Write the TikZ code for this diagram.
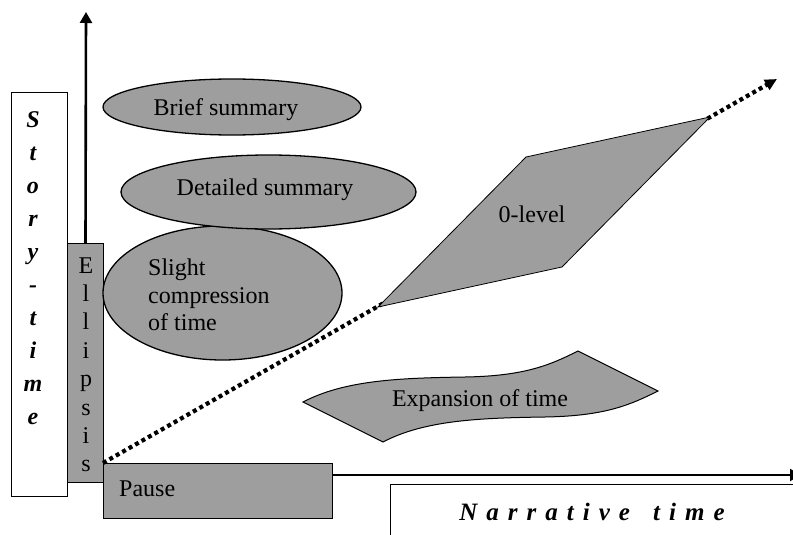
\documentclass[tikz,border=0pt]{standalone}
\usepackage{fontspec}
\setmainfont{Liberation Serif}
\usetikzlibrary{shapes.geometric,arrows.meta}
\definecolor{shade}{RGB}{158,158,158}
\tikzset{
  x=1pt, y=-1pt,
  lbl/.style={inner sep=0pt, font=\fontsize{24}{28}\selectfont},
  storylbl/.style={inner sep=0pt, anchor=base, font=\fontsize{24}{28}\selectfont\bfseries\itshape},
  greyfill/.style={fill=shade, draw=black, line width=1pt},
  oval/.style={ellipse, greyfill, line width=1.3pt, inner sep=0pt},
  plainbox/.style={rectangle, draw=black, fill=white, line width=1.1pt, inner sep=0pt, anchor=north west},
  greybox/.style={rectangle, greyfill, inner sep=0pt, anchor=north west},
  axis/.style={line width=2.6pt, -{Triangle[length=11pt,width=12pt]}},
  diag/.style={line width=4.2pt, dash pattern=on 4pt off 3.4pt, -{Triangle[length=12pt,width=11pt]}},
}
\begin{document}
\begin{tikzpicture}
\useasboundingbox (0,0) rectangle (793,535);
\clip (0,0) rectangle (793,535);

% vertical label box: Story-time
\node[plainbox, minimum width=56pt, minimum height=404pt] (story) at (11,92) {};
\foreach \ch [count=\i] in {S,t,o,r,y,-,t,i,m,e}
  \node[storylbl] (st\i) at (33,{127+(\i-1)*33}) {\ch};

% story-time axis
\coordinate (vtop) at (86,12);
\node[greybox, minimum width=36pt, minimum height=239pt] (ellbox) at (67,243) {};
\draw[axis] (ellbox.north) -- (vtop);
\foreach \ch [count=\i] in {E,l,l,i,p,s,i,s}
  \node[lbl, anchor=base] (el\i) at (86,{273+(\i-1)*28.4}) {\ch};

% ovals
\node[oval, minimum width=239pt, minimum height=134pt] (slight) at (222.5,293) {};
\node[lbl, anchor=west, align=left, font=\fontsize{24}{27.5}\selectfont] (slighttxt) at (148,295) {Slight\\compression\\of time};
\node[oval, minimum width=295pt, minimum height=74pt] (detailed) at (268.5,192) {};
\node[lbl, anchor=base] (detailedtxt) at (265,195) {Detailed summary};
\node[oval, minimum width=258pt, minimum height=56pt] (brief) at (232,107) {};
\node[lbl, anchor=base] (brieftxt) at (226,116) {Brief summary};

% pause box
\node[greybox, minimum width=229pt, minimum height=55pt] (pause) at (103,463) {};
\node[lbl, anchor=base west] (pausetxt) at (119,496) {Pause};

% dotted diagonal
\coordinate (dtip) at (777,79);
\draw[diag] (pause.north west) -- (dtip);

% 0-level parallelogram
\filldraw[greyfill, line width=0.8pt] (378,307) -- (526,157) -- (710,117) -- (562,267) -- cycle;
\node[lbl, anchor=base] (zerotxt) at (532,222) {0-level};

% expansion of time
\filldraw[greyfill, line width=1pt]
  (303,402) .. controls (345,380) and (400,378) .. (465,377)
  .. controls (525,376) and (550,365) .. (578,351)
  -- (658,391)
  .. controls (630,405) and (605,416) .. (545,417)
  .. controls (480,418) and (425,420) .. (383,442) -- cycle;
\node[lbl, anchor=base] (exptxt) at (480,406) {Expansion of time};

% narrative-time axis (tip runs past the right edge)
\coordinate (hend) at (801,475);
\draw[axis, line width=2.2pt] (pause.east |- hend) -- (hend);

% horizontal label box: Narrative time
\node[plainbox, minimum width=420pt, minimum height=80pt] (narr) at (390,484) {};
\node[storylbl, font=\fontsize{25}{28}\selectfont\bfseries\itshape] (narrtxt) at (592,520) {\addfontfeature{LetterSpace=36}Narrative\hspace{8pt} time};
\end{tikzpicture}
\end{document}
